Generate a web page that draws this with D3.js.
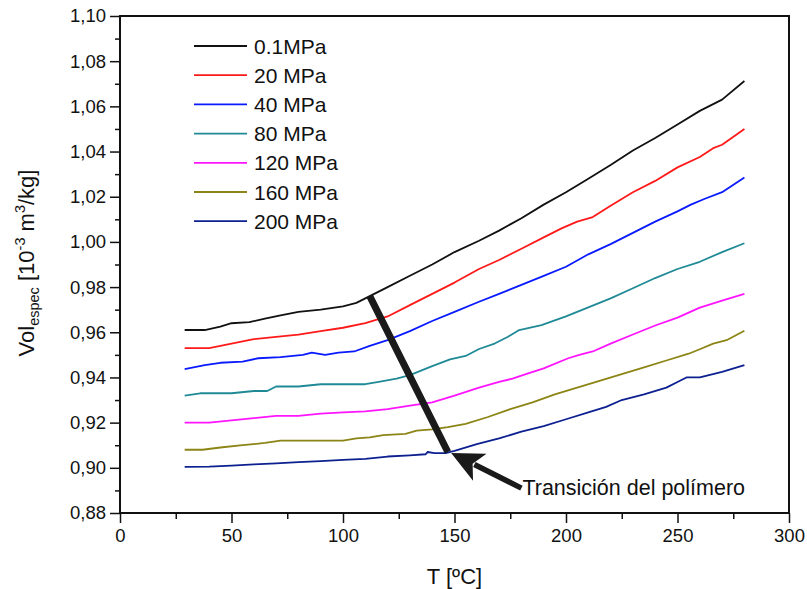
<!DOCTYPE html>
<html><head><meta charset="utf-8">
<script src="https://cdn.jsdelivr.net/npm/d3@7"></script>
<style>
body{margin:0;background:#fff;}
text{font-family:"Liberation Sans",Arial,sans-serif;fill:#111;}
</style></head><body>
<svg id="chart" width="807" height="589"></svg>
<script>
const seriesNames = ["0.1MPa","20 MPa","40 MPa","80 MPa","120 MPa","160 MPa","200 MPa"];
const seriesColors = ["#111111","#ff1a1a","#0a1aff","#1f8a96","#ff14ff","#8c8516","#0d2090"];

const s01 = [[29,0.961],[38,0.961],[45,0.9625],[50,0.964],[58,0.9645],[65,0.966],[72,0.9675],[80,0.969],[90,0.970],[100,0.9715],[106,0.973],[112,0.976],[120,0.980],[130,0.985],[140,0.990],[150,0.9955],[161,1.0005],[170,1.005],[180,1.0105],[190,1.0165],[200,1.022],[210,1.028],[220,1.034],[230,1.0405],[240,1.046],[250,1.052],[260,1.058],[270,1.063],[280,1.0712]];
const s20 = [[29,0.953],[40,0.953],[50,0.955],[60,0.957],[70,0.958],[80,0.959],[90,0.9605],[100,0.962],[110,0.964],[120,0.967],[130,0.972],[140,0.977],[150,0.982],[161,0.988],[170,0.992],[180,0.997],[190,1.002],[198,1.006],[205,1.009],[212,1.011],[220,1.016],[230,1.022],[240,1.027],[250,1.033],[260,1.0376],[266,1.0415],[270,1.043],[280,1.050]];
const s40 = [[29,0.9437],[38,0.9455],[45,0.9465],[55,0.947],[62,0.9485],[72,0.949],[82,0.950],[86,0.951],[92,0.950],[98,0.951],[105,0.9515],[112,0.954],[120,0.9565],[130,0.9605],[140,0.965],[150,0.969],[161,0.9735],[170,0.977],[180,0.981],[190,0.985],[200,0.989],[210,0.9945],[220,0.999],[230,1.004],[240,1.009],[250,1.0135],[256,1.0165],[262,1.019],[270,1.022],[280,1.0285]];
const s80 = [[29,0.932],[36,0.933],[50,0.933],[60,0.934],[66,0.934],[70,0.936],[80,0.936],[90,0.937],[110,0.937],[116,0.938],[124,0.9395],[130,0.941],[140,0.945],[148,0.948],[155,0.9495],[161,0.9526],[168,0.955],[174,0.958],[179,0.961],[189,0.9632],[200,0.967],[210,0.971],[220,0.975],[230,0.9795],[240,0.984],[250,0.988],[260,0.9912],[270,0.9955],[280,0.9994]];
const s120 = [[29,0.920],[40,0.920],[50,0.921],[60,0.922],[70,0.923],[80,0.923],[90,0.924],[100,0.9245],[110,0.925],[120,0.926],[130,0.9275],[140,0.929],[150,0.932],[161,0.9355],[170,0.938],[176,0.9395],[182,0.9415],[190,0.944],[201,0.9485],[206,0.950],[212,0.9515],[220,0.955],[230,0.959],[240,0.963],[250,0.9665],[260,0.9709],[270,0.974],[280,0.977]];
const s160 = [[29,0.908],[37,0.908],[45,0.909],[55,0.910],[65,0.911],[72,0.912],[82,0.912],[100,0.912],[106,0.913],[112,0.9135],[118,0.9145],[128,0.915],[133,0.9165],[140,0.917],[147,0.918],[155,0.9195],[165,0.9225],[175,0.926],[185,0.929],[195,0.9325],[205,0.9355],[215,0.9385],[225,0.9415],[235,0.9445],[245,0.9475],[255,0.9505],[260,0.9525],[266,0.955],[272,0.9565],[280,0.9607]];
const s200 = [[29,0.9004],[40,0.9005],[50,0.901],[60,0.9015],[70,0.902],[80,0.9025],[90,0.903],[100,0.9035],[110,0.904],[120,0.905],[130,0.9055],[137,0.906],[138,0.907],[141,0.9065],[146,0.9065],[150,0.9075],[160,0.9105],[170,0.913],[180,0.916],[190,0.9185],[200,0.9215],[210,0.9245],[218,0.927],[225,0.930],[235,0.9325],[245,0.9355],[250,0.938],[254,0.940],[260,0.940],[270,0.9425],[280,0.9455]];
const seriesData = [s01,s20,s40,s80,s120,s160,s200];

const xTicks = [0,50,100,150,200,250,300];
const yTicks = [0.88,0.90,0.92,0.94,0.96,0.98,1.00,1.02,1.04,1.06,1.08,1.10];
const annotationText = "Transición del polímero";
const transitionLine = [[112,0.976],[147,0.907]];
const arrowTip = [148.5,0.9066];
const arrowTail = [180,0.8910];

const svg = d3.select("#chart");
const L=120, R=789, T=16, B=513;
const x = d3.scaleLinear().domain([0,300]).range([L,R]);
const y = d3.scaleLinear().domain([0.88,1.10]).range([B,T]);
const fmt = v => d3.format(".2f")(v).replace(".",",");

// axes
const xAxis = svg.append("g").attr("transform",`translate(0,${B})`)
  .call(d3.axisBottom(x).tickValues(xTicks).tickSize(10).tickPadding(6).tickFormat(d3.format("d")));
const xMinor = svg.append("g").attr("transform",`translate(0,${B})`)
  .call(d3.axisBottom(x).tickValues([25,75,125,175,225,275]).tickSize(6).tickFormat(""));
const yAxis = svg.append("g").attr("transform",`translate(${L},0)`)
  .call(d3.axisLeft(y).tickValues(yTicks).tickSize(10).tickPadding(4).tickFormat(fmt));
const yMinor = svg.append("g").attr("transform",`translate(${L},0)`)
  .call(d3.axisLeft(y).tickValues(d3.range(0.89,1.10,0.02)).tickSize(5).tickFormat(""));
[xAxis,xMinor,yAxis,yMinor].forEach(g=>{
  g.select(".domain").remove();
  g.selectAll("line").attr("stroke","#111").attr("stroke-width",1.5);
  g.selectAll("text").style("font-size","18.5px").attr("fill","#111").style("font-family","'Liberation Sans',Arial,sans-serif");
});
// frame
svg.append("rect").attr("x",L).attr("y",T).attr("width",R-L).attr("height",B-T)
  .attr("fill","none").attr("stroke","#111").attr("stroke-width",2);

// lines
const line = d3.line().x(d=>x(d[0])).y(d=>y(d[1]));
seriesData.forEach((d,i)=>{
  svg.append("path").datum(d).attr("d",line).attr("fill","none")
    .attr("stroke",seriesColors[i]).attr("stroke-width",1.8).attr("stroke-linejoin","round");
});

// legend
const lg = svg.append("g");
seriesNames.forEach((n,i)=>{
  const yy = 46 + i*29.2;
  lg.append("line").attr("x1",194).attr("x2",247).attr("y1",yy).attr("y2",yy)
    .attr("stroke",seriesColors[i]).attr("stroke-width",1.8);
  lg.append("text").attr("x",254).attr("y",yy+7.5).style("font-size","21px").text(n);
});

// transition line
svg.append("line").attr("x1",x(transitionLine[0][0])).attr("y1",y(transitionLine[0][1]))
  .attr("x2",x(transitionLine[1][0])).attr("y2",y(transitionLine[1][1]))
  .attr("stroke","#1a1a1a").attr("stroke-width",7);

// arrow
const tx=x(arrowTip[0]), ty=y(arrowTip[1]), sx=x(arrowTail[0]), sy=y(arrowTail[1]);
const ang=Math.atan2(ty-sy,tx-sx), hl=32, hw=15;
const bx=tx-hl*Math.cos(ang), by=ty-hl*Math.sin(ang);
svg.append("line").attr("x1",sx).attr("y1",sy).attr("x2",bx+6*Math.cos(ang)).attr("y2",by+6*Math.sin(ang))
  .attr("stroke","#1a1a1a").attr("stroke-width",5.5);
svg.append("path").attr("fill","#1a1a1a").attr("d",
  `M${tx},${ty}L${bx+hw*Math.sin(ang)},${by-hw*Math.cos(ang)}L${bx+8*Math.cos(ang)},${by+8*Math.sin(ang)}L${bx-hw*Math.sin(ang)},${by+hw*Math.cos(ang)}Z`);
svg.append("text").attr("x",sx+1).attr("y",sy+7).style("font-size","21.5px").text(annotationText);

// axis titles
svg.append("text").attr("x",(L+R)/2).attr("y",584).attr("text-anchor","middle")
  .style("font-size","22px").text("T [ºC]");
const yt = svg.append("text").attr("transform","translate(34,263) rotate(-90)")
  .attr("text-anchor","middle").style("font-size","22px");
yt.append("tspan").text("Vol");
yt.append("tspan").attr("dy",5).style("font-size","14.5px").text("espec");
yt.append("tspan").attr("dy",-5).text(" [10");
yt.append("tspan").attr("dy",-9).style("font-size","14.5px").text("-3");
yt.append("tspan").attr("dy",9).text(" m");
yt.append("tspan").attr("dy",-9).style("font-size","14.5px").text("3");
yt.append("tspan").attr("dy",9).text("/kg]");
</script></body></html>
